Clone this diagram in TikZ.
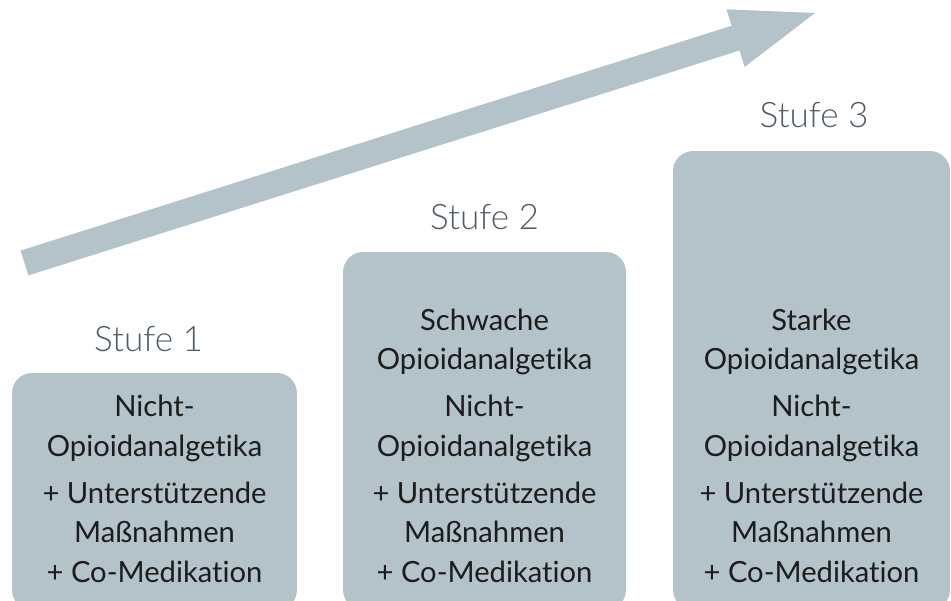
\documentclass[tikz,border=0pt]{standalone}
\usepackage{fontspec}
\setmainfont{Lato}[Ligatures={NoCommon,NoRequired,NoContextual}]
\newfontfamily\lightfont{Lato Light}
\usepackage{xcolor}
\usetikzlibrary{positioning}
\definecolor{boxgray}{HTML}{B4C2CA}
\definecolor{labelgray}{HTML}{4D5C66}
\definecolor{textdark}{HTML}{1C1C1C}

\begin{document}
\begin{tikzpicture}[x=0.02cm,y=-0.02cm]

\tikzstyle{level}=[fill=boxgray, rounded corners=0.4cm, inner sep=0pt]
\tikzstyle{stufe}=[text=labelgray, font=\lightfont\fontsize{20}{24}\selectfont, inner sep=0pt]
\tikzstyle{druginfo}=[text=textdark, align=center, inner sep=0pt,
    font=\fontsize{16.6}{22.5}\selectfont, anchor=south]

\useasboundingbox (0,0) rectangle (951,601);
\clip (0,0) rectangle (951,601);

% rising arrow
\begin{scope}[shift={(24.5,263)}, rotate=17.55]
  \fill[boxgray] (0,-13) -- (745.8,-13) -- (745.8,-30.2) -- (829.1,0)
      -- (745.8,30.2) -- (745.8,13) -- (0,13) -- cycle;
\end{scope}

% the three steps
\node[level, minimum width=5.7cm, minimum height=4.74cm] (box1) at (154.5,491.5) {};
\node[level, minimum width=5.66cm, minimum height=7.16cm] (box2) at (484.5,431) {};
\node[level, minimum width=5.54cm, minimum height=9.18cm] (box3) at (811.5,380.5) {};

\node[stufe, above=0.42cm of box1, xshift=-0.12cm] (stufe1) {Stufe 1};
\node[stufe, above=0.44cm of box2] (stufe2) {Stufe 2};
\node[stufe, above=0.46cm of box3, xshift=0.05cm] (stufe3) {Stufe 3};

\coordinate (base) at (0,583);
\node[druginfo] (info1) at (box1 |- base)
    {Nicht-\\Opioidanalgetika\\[4.3pt]+ Unterstützende\\Maßnahmen\\+ Co-Medikation};
\node[druginfo] (info2) at (box2 |- base)
    {Schwache\\Opioidanalgetika\\[4.3pt]Nicht-\\Opioidanalgetika\\[4.3pt]+ Unterstützende\\Maßnahmen\\+ Co-Medikation};
\node[druginfo] (info3) at (box3 |- base)
    {Starke\\Opioidanalgetika\\[4.3pt]Nicht-\\Opioidanalgetika\\[4.3pt]+ Unterstützende\\Maßnahmen\\+ Co-Medikation};

\end{tikzpicture}
\end{document}
